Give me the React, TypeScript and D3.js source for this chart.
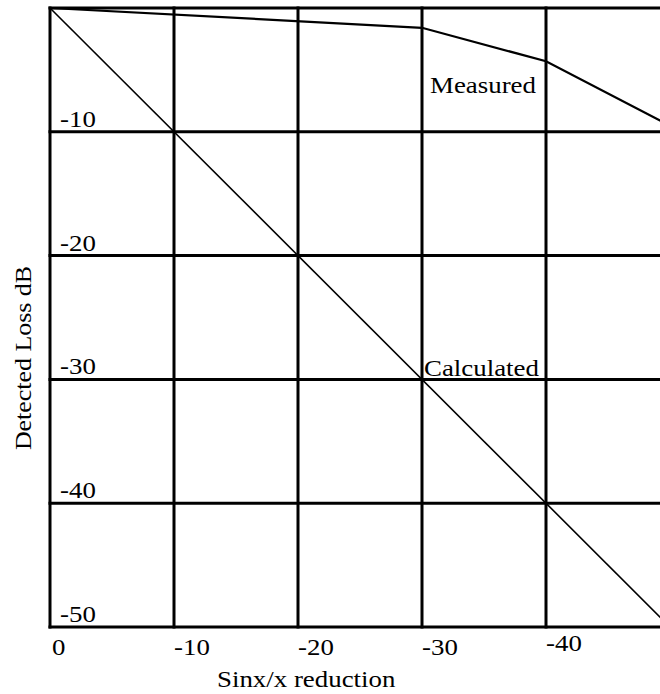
import React from 'react';
import * as d3 from 'd3';

// axis ticks
const xTicks = [0, -10, -20, -30, -40];
const yTicks = [0, -10, -20, -30, -40, -50];
const yTickLabels = ['-10', '-20', '-30', '-40', '-50'];

// series
const measuredX = [0, -30, -40, -50];
const measuredY = [0, -1.6, -4.3, -9.5];
const calculatedX = [0, -50];
const calculatedY = [0, -50];

const W = 660;
const H = 694;
const FONT = '"Liberation Serif", "Times New Roman", serif';
const STRETCH = 1.12;

export default function App() {
  const x = d3.scaleLinear().domain([0, -50]).range([50, 670]);
  const y = d3.scaleLinear().domain([0, -50]).range([8, 627]);

  const line = d3
    .line<[number, number]>()
    .x((d) => x(d[0]))
    .y((d) => y(d[1]));
  const measuredPath = line(measuredX.map((v, i) => [v, measuredY[i]])) || '';
  const calculatedPath = line(calculatedX.map((v, i) => [v, calculatedY[i]])) || '';

  const txt = (s: string, tx: number, ty: number, key?: string) => (
    <text
      key={key}
      transform={`translate(${tx},${ty}) scale(${STRETCH},1)`}
      fontFamily={FONT}
      fontSize={24}
      fill="#000"
    >
      {s}
    </text>
  );

  return (
    <div style={{ position: 'absolute', left: 0, top: 0 }}>
      <svg width={W} height={H} style={{ display: 'block', background: '#fff' }}>
        {/* grid */}
        {xTicks.map((t) => (
          <line key={'vx' + t} x1={x(t)} x2={x(t)} y1={y(0) - 1.5} y2={y(-50) + 1.5} stroke="#000" strokeWidth={3} />
        ))}
        {yTicks.map((t) => (
          <line key={'hy' + t} x1={x(0) - 1.5} x2={W} y1={y(t)} y2={y(t)} stroke="#000" strokeWidth={3} />
        ))}

        {/* series */}
        <path d={calculatedPath} fill="none" stroke="#000" strokeWidth={1.6} />
        <path d={measuredPath} fill="none" stroke="#000" strokeWidth={2.2} />

        {/* y tick labels, inside the plot */}
        {yTickLabels.map((s, i) => txt(s, x(0) + 10, y(yTicks[i + 1]) - 5, 'yl' + s))}

        {/* x tick labels */}
        {xTicks.map((t, i) =>
          txt(t === 0 ? '0' : String(t), x(t) + (t === 0 ? 2 : 0), i === 4 ? 651 : 655, 'xl' + t)
        )}

        {/* annotations */}
        {txt('Measured', x(-30) + 8, y(-6.9), 'm')}
        {txt('Calculated', x(-30) + 2, y(-29.7), 'c')}

        {/* axis titles */}
        {txt('Sinx/x reduction', 217, 687, 'xt')}
        <text
          transform={`translate(31,358) rotate(-90) scale(1.08,1)`}
          textAnchor="middle"
          fontFamily={FONT}
          fontSize={24}
          fill="#000"
        >
          Detected Loss dB
        </text>
      </svg>
    </div>
  );
}
